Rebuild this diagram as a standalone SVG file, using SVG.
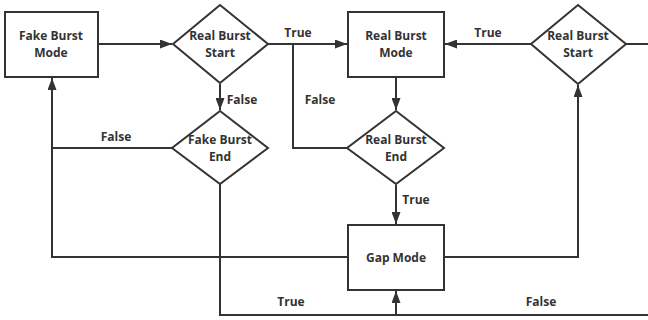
<svg xmlns="http://www.w3.org/2000/svg" width="648" height="320" viewBox="0 0 648 320">
<style>
.n{fill:#fff;stroke:#333;stroke-width:2}
.c{fill:none;stroke:#333;stroke-width:2}
text{font-family:"Open Sans","Noto Sans","Liberation Sans",sans-serif;font-weight:bold;font-size:12px;fill:#333;text-anchor:middle}
</style>
<defs>
<marker id="a" viewBox="0 0 12 9" refX="12" refY="4.5" markerWidth="12" markerHeight="9" markerUnits="userSpaceOnUse" orient="auto">
<path d="M0,0L12,4.5L0,9z" fill="#333"/>
</marker>
</defs>
<rect width="648" height="320" fill="#fff"/>
<g id="connectors">
<path class="c" d="M98,44H172" marker-end="url(#a)"/>
<path class="c" d="M268,44H347" marker-end="url(#a)"/>
<path class="c" d="M293,44V148H347"/>
<path class="c" d="M220,84V110" marker-end="url(#a)"/>
<path class="c" d="M396,77V110" marker-end="url(#a)"/>
<path class="c" d="M396,185V224" marker-end="url(#a)"/>
<path class="c" d="M531,44H445" marker-end="url(#a)"/>
<path class="c" d="M626,44H648"/>
<path class="c" d="M444,257H578V85" marker-end="url(#a)"/>
<path class="c" d="M348,257H52V78" marker-end="url(#a)"/>
<path class="c" d="M172,148H52"/>
<path class="c" d="M220,184V315H648"/>
<path class="c" d="M396,315V291" marker-end="url(#a)"/>
<text x="298" y="37">True</text>
<text x="320" y="104">False</text>
<text x="242" y="104">False</text>
<text x="116" y="141">False</text>
<text x="488" y="37">True</text>
<text x="416" y="204">True</text>
<text x="291" y="306">True</text>
<text x="541" y="306">False</text>
</g>
<g id="fake-burst-mode">
<rect class="n" x="5" y="12" width="93" height="65"/>
<text x="51" y="40">Fake Burst</text>
<text x="51" y="57">Mode</text>
</g>
<g id="real-burst-start-1">
<path class="n" d="M220,5L268,44L220,83L173,44z"/>
<text x="220" y="40">Real Burst</text>
<text x="220" y="57">Start</text>
</g>
<g id="fake-burst-end">
<path class="n" d="M220,111L268,148L220,184L172,148z"/>
<text x="220" y="144">Fake Burst</text>
<text x="220" y="161">End</text>
</g>
<g id="real-burst-mode">
<rect class="n" x="348" y="12" width="96" height="65"/>
<text x="396" y="40">Real Burst</text>
<text x="396" y="57">Mode</text>
</g>
<g id="real-burst-end">
<path class="n" d="M396,111L444,148L396,184L347,148z"/>
<text x="396" y="144">Real Burst</text>
<text x="396" y="161">End</text>
</g>
<g id="gap-mode">
<rect class="n" x="348" y="225" width="96" height="65"/>
<text x="396" y="262">Gap Mode</text>
</g>
<g id="real-burst-start-2">
<path class="n" d="M578,5L626,44L578,84L531,44z"/>
<text x="578" y="40">Real Burst</text>
<text x="578" y="57">Start</text>
</g>
</svg>
